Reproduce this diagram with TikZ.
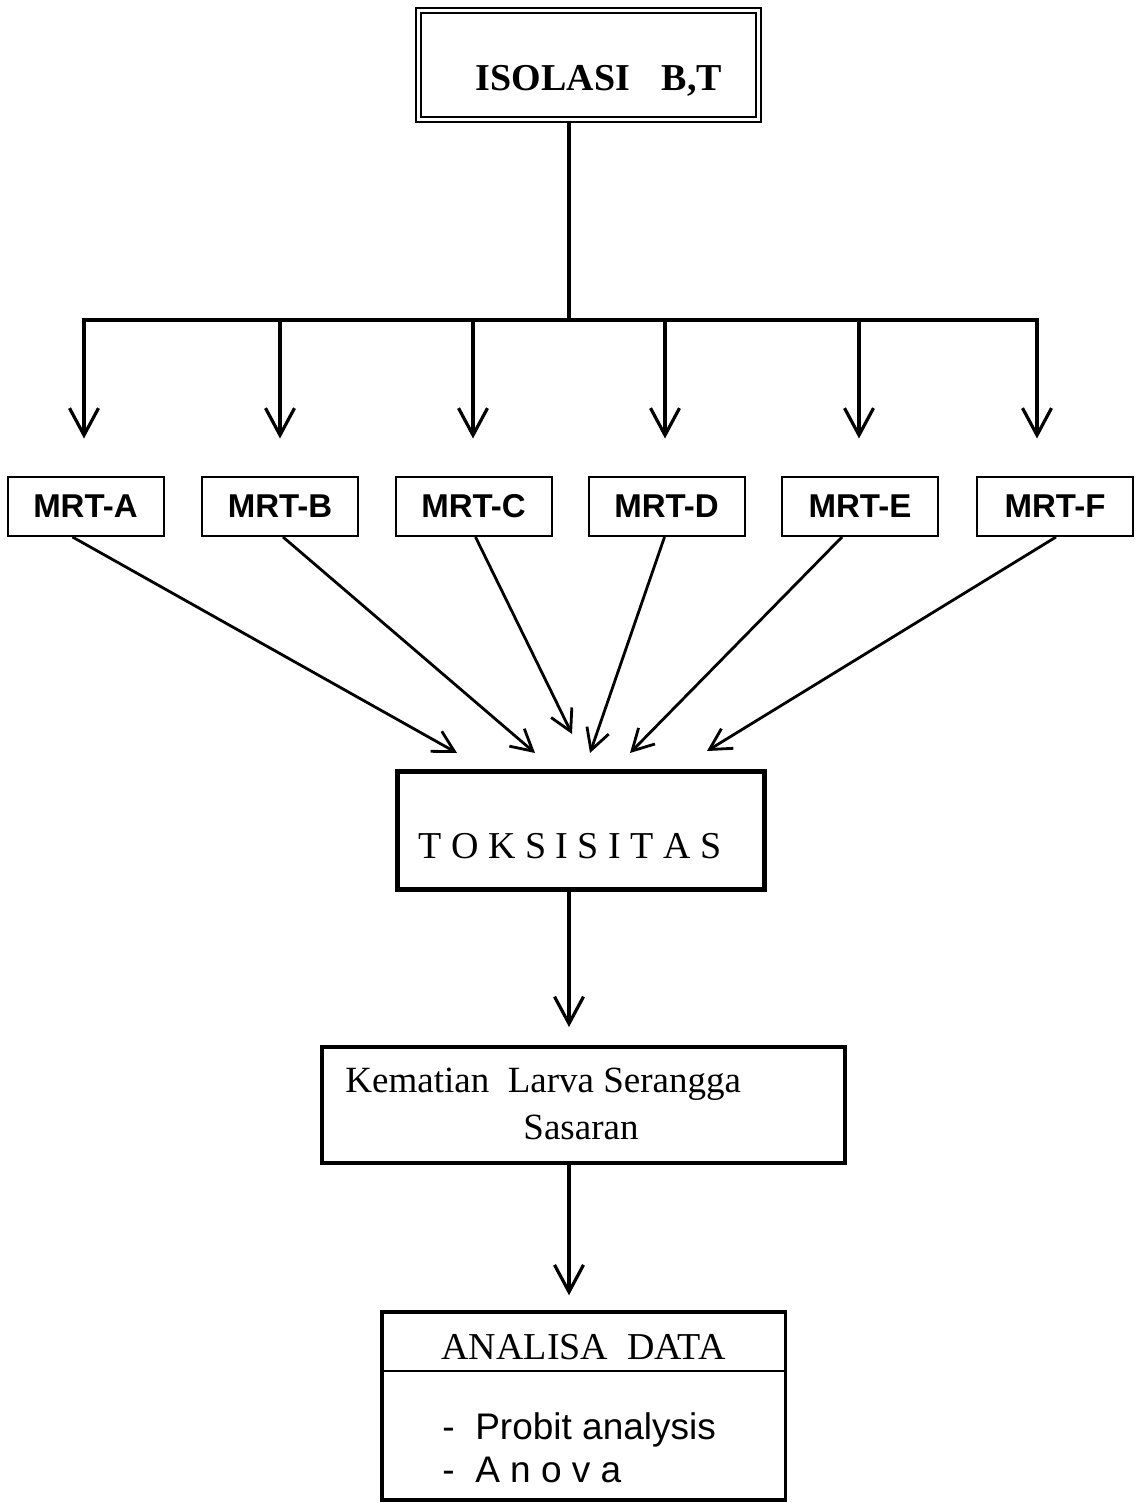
\documentclass[tikz,border=0pt]{standalone}
\usepackage{fontspec}
\setmainfont{Liberation Serif}
\setsansfont{Liberation Sans}
\usetikzlibrary{calc, arrows.meta}

\begin{document}
\begin{tikzpicture}[x=0.5pt, y=-0.5pt,
    line/.style={line width=1.6pt},
    drop/.style={line width=1.6pt, -{Straight Barb[length=13.5pt, width=14.5pt]}},
    diag/.style={line width=1.4pt, -{Straight Barb[length=10.5pt, width=11.5pt]}},
    mrtbox/.style={draw, line width=1pt, minimum width=78pt, minimum height=29.5pt, inner sep=0pt,
      font=\sffamily\bfseries\fontsize{16.5}{18}\selectfont},
    bigbox/.style={draw, inner sep=0pt},
    txt/.style={inner sep=0pt}]
  \useasboundingbox (0,0) rectangle (1136,1503);

  % top box
  \node[bigbox, line width=1.1pt, double, double distance=1.2pt,
    minimum width=170pt, minimum height=54.6pt] (isolasi) at (588.5,65) {};
  \node[txt, font=\bfseries\fontsize{19}{22}\selectfont] (isolasiText) at (599,81) {ISOLASI\hspace{16pt}B,T};

  \coordinate (bus) at (569,320);
  \draw[line] (bus |- isolasi.south) -- (bus);
  \foreach \n/\x in {A/84, B/280, C/473, D/665, E/859, F/1037}
    \coordinate (drop\n) at (\x,320);
  \draw[line, line cap=rect] (dropA) -- (dropF);

  % MRT boxes
  \foreach \n/\x in {A/85.5, B/280, C/473.5, D/666.5, E/860, F/1055}
    \node[mrtbox] (mrt\n) at (\x,506.5) {MRT-\n};
  \foreach \n in {A, B, C, D, E, F}
    \draw[drop, shorten >=18.75pt] (drop\n) -- (drop\n |- mrt\n.north);

  % toksisitas
  \node[bigbox, line width=2.5pt, minimum width=183.5pt, minimum height=59pt] (toks) at (581,830.5) {};
  \node[txt, font=\fontsize{19}{22}\selectfont] (toksText) at (570,846) {T O K S I S I T A S};

  \foreach \n/\dx/\ex/\ey in {A/-13/-124/-16, B/3/-46/-16, C/2/-9/-35, D/-2/9/-16, E/-18/49/-16, F/1/126/-18}
    \draw[diag] ([shift={(\dx,0)}]mrt\n.south) -- ([shift={(\ex,\ey)}]toks.north);

  % kematian
  \node[bigbox, line width=2pt, minimum width=261.5pt, minimum height=58pt] (kem) at (583.5,1105) {};
  \node[txt, font=\fontsize{18.5}{22}\selectfont, anchor=base west] (kemA) at (345,1092) {Kematian\ \ Larva Serangga};
  \node[txt, font=\fontsize{18.5}{22}\selectfont, anchor=base] (kemB) at (581,1139) {Sasaran};
  \draw[drop, shorten >=9pt] (toks.south -| bus) -- (kem.north -| bus);

  % analisa data
  \node[bigbox, line width=1.75pt, minimum width=201.75pt, minimum height=94pt] (ana) at (583.5,1406) {};
  \draw[line width=1pt] ($(ana.north west)!0.318!(ana.south west)$) -- ($(ana.north east)!0.318!(ana.south east)$);
  \node[txt, font=\fontsize{19}{22}\selectfont] (anaHead) at (583.5,1347) {ANALISA\ \ DATA};
  \node[txt, font=\sffamily\fontsize{18.5}{22}\selectfont, anchor=base west] (probit) at (442,1439) {-\ \ Probit analysis};
  \node[txt, font=\sffamily\fontsize{18.5}{22}\selectfont, anchor=base west] (anova) at (442,1482) {-\ \ A n o v a};
  \draw[drop, shorten >=7.5pt] (kem.south -| bus) -- (ana.north -| bus);
\end{tikzpicture}
\end{document}
